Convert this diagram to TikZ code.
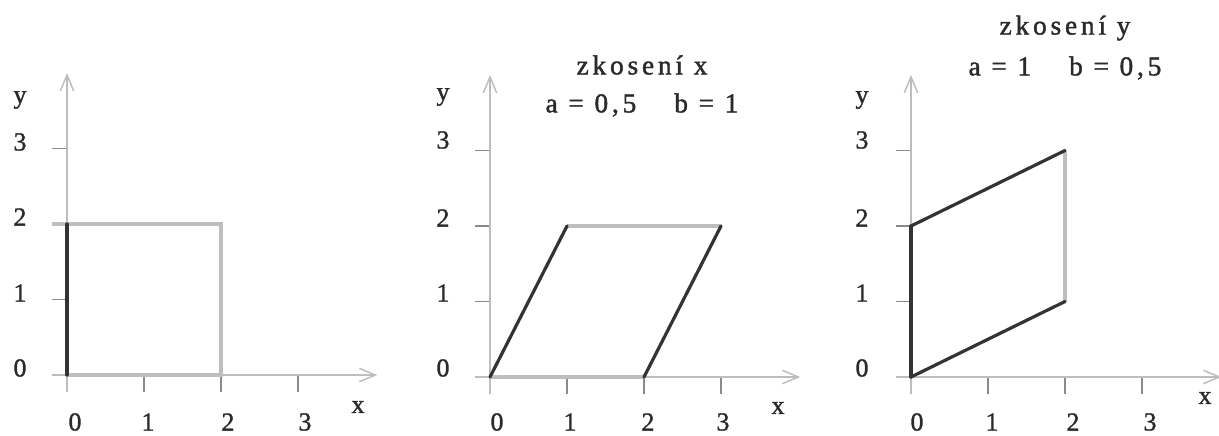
\documentclass[tikz,border=0pt]{standalone}
\usepackage{fontspec}
\setmainfont{Liberation Serif}[FakeBold=1.2]
\newfontfamily\spaced{Liberation Serif}[LetterSpace=14,FakeBold=1.4]
\usetikzlibrary{arrows.meta}
\definecolor{axisgray}{HTML}{BDBDBD}
\definecolor{shapegray}{HTML}{BEBEBE}
\definecolor{dark}{HTML}{333333}
\definecolor{txt}{HTML}{2A2A2A}
\definecolor{tickgray}{HTML}{8A8A8A}
\tikzset{
  axis/.style={draw=axisgray, line width=1.6pt, -{Straight Barb[length=12pt,width=10pt,line width=1.1pt]}},
  tickmark/.style={draw=tickgray, line width=1.1pt},
  lightedge/.style={draw=shapegray, line width=3pt},
  darkedge/.style={draw=dark, line width=2.4pt, line cap=round},
  num/.style={text=txt, font=\fontsize{19.5}{21}\selectfont, inner sep=0pt},
  ttl/.style={text=txt, font=\fontsize{20.5}{24}\selectfont\spaced, inner sep=0pt},
}
\begin{document}
\begin{tikzpicture}[x=0.75pt,y=-0.75pt]
\useasboundingbox (0,0) rectangle (1219,435);
\fill[white] (0,0) rectangle (1219,435);

% ---------- panel 1 ----------
\begin{scope}[shift={(67,375)}, x=57.75pt, y=56.625pt]
  \foreach \i in {1,2,3} {\draw[tickmark] (0,\i) -- (-0.2,\i);}
  \foreach \i in {0,1,2,3} {\draw[tickmark] (\i,0) -- (\i,-0.22);}
  \draw[axis] (0,-0.22) -- (0,4.0);
  \draw[axis] (-0.2,0) -- (4.03,0);
  \coordinate (s1a) at (0,0); \coordinate (s1b) at (2,0);
  \coordinate (s1c) at (2,2); \coordinate (s1d) at (0,2);
  \coordinate (s1e) at (-0.19,2);
  \draw[lightedge] (s1a) -- (s1b) -- (s1c) -- (s1e);
  \draw[darkedge] (s1a) -- (s1d);
\end{scope}
\node[num] (p1y) at (20,100) {y};
\node[num] (p1y3) at (20,142) {3};
\node[num] (p1y2) at (20,217) {2};
\node[num] (p1y1) at (20,293) {1};
\node[num] (p1y0) at (20,368) {0};
\node[num] (p1x0) at (75,422) {0};
\node[num] (p1x1) at (148,422) {1};
\node[num] (p1x2) at (228,422) {2};
\node[num] (p1x3) at (305,422) {3};
\node[num] (p1x) at (358,407) {x};

% ---------- panel 2 ----------
\begin{scope}[shift={(490,377)}, x=57.75pt, y=56.625pt]
  \foreach \i in {1,2,3} {\draw[tickmark] (0,\i) -- (-0.2,\i);}
  \foreach \i in {1,2,3} {\draw[tickmark] (\i,0) -- (\i,-0.22);}
  \draw[axis] (0,-0.22) -- (0,4.0);
  \draw[axis] (-0.2,0) -- (4.03,0);
  \coordinate (s2a) at (0,0); \coordinate (s2b) at (2,0);
  \coordinate (s2c) at (3,2); \coordinate (s2d) at (1,2);
  \draw[lightedge] (s2a) -- (s2b);
  \draw[lightedge] (s2d) -- (s2c);
  \draw[darkedge] (s2a) -- (s2d);
  \draw[darkedge] (s2b) -- (s2c);
\end{scope}
\node[ttl] (t2a) at (642,65) {zkosení x};
\node[ttl] (t2b) at (642,105) {a = 0,5\quad\ b = 1};
\node[num] (p2y) at (443,97) {y};
\node[num] (p2y3) at (443,140) {3};
\node[num] (p2y2) at (443,218) {2};
\node[num] (p2y1) at (443,293) {1};
\node[num] (p2y0) at (443,368) {0};
\node[num] (p2x0) at (497,422) {0};
\node[num] (p2x1) at (570,422) {1};
\node[num] (p2x2) at (648,422) {2};
\node[num] (p2x3) at (723,422) {3};
\node[num] (p2x) at (778,408) {x};

% ---------- panel 3 ----------
\begin{scope}[shift={(911,377)}, x=57.75pt, y=56.625pt]
  \foreach \i in {1,2,3} {\draw[tickmark] (0,\i) -- (-0.2,\i);}
  \foreach \i in {0,1,2,3} {\draw[tickmark] (\i,0) -- (\i,-0.22);}
  \draw[axis] (0,-0.22) -- (0,4.0);
  \draw[axis] (-0.2,0) -- (4.03,0);
  \coordinate (s3a) at (0,0); \coordinate (s3b) at (2,1);
  \coordinate (s3c) at (2,3); \coordinate (s3d) at (0,2);
  \draw[lightedge] (s3b) -- (s3c);
  \draw[darkedge] (s3a) -- (s3b);
  \draw[darkedge] (s3d) -- (s3c);
  \draw[darkedge] (s3a) -- (s3d);
\end{scope}
\node[ttl] (t3a) at (1065,28) {zkosení y};
\node[ttl] (t3b) at (1065,68) {a = 1\quad\ b = 0,5};
\node[num] (p3y) at (862,100) {y};
\node[num] (p3y3) at (862,140) {3};
\node[num] (p3y2) at (862,218) {2};
\node[num] (p3y1) at (862,293) {1};
\node[num] (p3y0) at (862,368) {0};
\node[num] (p3x0) at (917,422) {0};
\node[num] (p3x1) at (992,422) {1};
\node[num] (p3x2) at (1073,422) {2};
\node[num] (p3x3) at (1150,422) {3};
\node[num] (p3x) at (1205,398) {x};
\end{tikzpicture}
\end{document}
